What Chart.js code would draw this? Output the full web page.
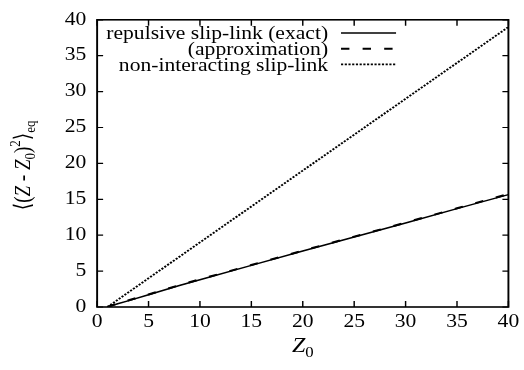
<!DOCTYPE html>
<html><head><meta charset="utf-8">
<script src="https://cdn.jsdelivr.net/npm/chart.js@4/dist/chart.umd.min.js"></script>
<style>html,body{margin:0;padding:0;background:#fff;overflow:hidden}canvas{display:block}</style>
</head><body>
<canvas id="c" width="437" height="370"></canvas>
<script>
// ---- data ----
const z0Values          = [1, 2, 3, 5, 8, 10, 15, 20, 25, 30, 35, 40];
const exactValues       = [0, 0.45, 0.85, 1.7, 3.0, 3.8, 5.8, 7.8, 9.75, 11.7, 13.7, 15.65];
const approxValues      = [0, 0.5, 0.9, 1.75, 3.05, 3.85, 5.85, 7.85, 9.8, 11.75, 13.75, 15.75];
const nonInteracting    = [0, 1, 2, 4, 7, 9, 14, 19, 24, 29, 34, 39];
const seriesLabels      = ['repulsive slip-link (exact)', '(approximation)', 'non-interacting slip-link'];
const xTickLabels       = ['0','5','10','15','20','25','30','35','40'];
const yTickLabels       = ['0','5','10','15','20','25','30','35','40'];

const FONT = '"Liberation Serif"';
const LAYOUT_W = 437, OUT_W = 524, OUT_H = 370;
const SX = OUT_W / LAYOUT_W;   // the reference is horizontally stretched
const toPts = (ys) => z0Values.map((x, i) => ({x, y: ys[i]}));

const styles = [
  {borderWidth: 1.5, borderDash: []},
  {borderWidth: 2, borderDash: [7, 11]},
  {borderWidth: 1.8, borderDash: [1.8, 1.3]}
];

const datasets = [exactValues, approxValues, nonInteracting].map((ys, i) => ({
  label: seriesLabels[i], data: toPts(ys), showLine: true, fill: false, tension: 0,
  borderColor: '#000', backgroundColor: '#000', pointRadius: 0,
  borderWidth: styles[i].borderWidth, borderDash: styles[i].borderDash
}));

function drawRich(ctx, segs, x, y, align) {
  const fontOf = s => `${s.it ? 'italic ' : ''}${s.sz}px ${s.f || FONT}`;
  const widths = segs.map(s => { ctx.font = fontOf(s); return ctx.measureText(s.t).width; });
  const total = widths.reduce((a, b) => a + b, 0);
  let cx = align === 'center' ? x - total / 2 : (align === 'right' ? x - total : x);
  ctx.textAlign = 'left';
  ctx.textBaseline = 'alphabetic';
  segs.forEach((s, i) => { ctx.font = fontOf(s); ctx.fillText(s.t, cx, y + (s.dy || 0)); cx += widths[i]; });
}

const stretchPlugin = {
  id: 'stretch',
  beforeDraw(chart) {
    const ctx = chart.ctx;
    ctx.setTransform(1, 0, 0, 1, 0, 0);
    ctx.fillStyle = '#fff';
    ctx.fillRect(0, 0, chart.canvas.width, chart.canvas.height);
    ctx.setTransform(chart.canvas.width / LAYOUT_W, 0, 0, 1, 0, 0);
  }
};

const framePlugin = {
  id: 'frame',
  afterDraw(chart) {
    const ctx = chart.ctx, a = chart.chartArea;
    const xs = chart.scales.x, ys = chart.scales.y;
    ctx.save();
    ctx.strokeStyle = '#000';
    ctx.fillStyle = '#000';
    ctx.setLineDash([]);
    ctx.lineWidth = 1.6;
    ctx.strokeRect(a.left, a.top, a.right - a.left, a.bottom - a.top);
    ctx.lineWidth = 1.2;
    ctx.beginPath();
    xs.ticks.forEach(t => {
      const px = xs.getPixelForValue(t.value);
      ctx.moveTo(px, a.bottom); ctx.lineTo(px, a.bottom - 6);
      ctx.moveTo(px, a.top); ctx.lineTo(px, a.top + 6);
    });
    ys.ticks.forEach(t => {
      const py = ys.getPixelForValue(t.value);
      ctx.moveTo(a.left, py); ctx.lineTo(a.left + 5, py);
      ctx.moveTo(a.right, py); ctx.lineTo(a.right - 5, py);
    });
    ctx.stroke();

    const textRight = 273.6, sx0 = 284.4, sx1 = 330.3;
    const baselines = [39.3, 55, 70.7];
    chart.data.datasets.forEach((ds, i) => {
      drawRich(ctx, [{t: ds.label, sz: 18}], textRight, baselines[i], 'right');
      ctx.beginPath();
      ctx.lineWidth = ds.borderWidth;
      ctx.setLineDash(ds.borderDash || []);
      const ly = baselines[i] - 6.3;
      ctx.moveTo(sx0, ly); ctx.lineTo(sx1, ly);
      ctx.stroke();
      ctx.setLineDash([]);
    });

    drawRich(ctx, [{t: 'Z', it: true, sz: 20}, {t: '0', sz: 14, dy: 5}], (a.left + a.right) / 2, 352, 'center');

    ctx.translate(25, (a.top + a.bottom) / 2 + 2);
    ctx.rotate(-Math.PI / 2);
    drawRich(ctx, [
      {t: '\u27E8', sz: 19, f: '"DejaVu Sans"'}, {t: '(', sz: 19}, {t: 'Z', it: true, sz: 19}, {t: ' - ', sz: 19},
      {t: 'Z', it: true, sz: 19}, {t: '0', sz: 13, dy: 4}, {t: ')', sz: 19},
      {t: '2', sz: 13, dy: -8}, {t: '\u27E9', sz: 19, f: '"DejaVu Sans"'}, {t: 'eq', sz: 13, dy: 4}
    ], 0, 0, 'center');
    ctx.restore();
  }
};

const canvas = document.getElementById('c');
const chart = new Chart(canvas, {
  type: 'scatter',
  data: {datasets},
  options: {
    responsive: false, animation: false, devicePixelRatio: 1,
    layout: {padding: {top: 14, right: 10, left: 0, bottom: 0}},
    plugins: {legend: {display: false}, tooltip: {enabled: false}},
    events: [],
    scales: {
      x: {
        type: 'linear', min: 0, max: 40,
        ticks: {stepSize: 5, color: '#000', font: {family: FONT, size: 18}, padding: 4, maxRotation: 0,
                callback: (v, i) => xTickLabels[i]},
        grid: {display: false, drawTicks: false}, border: {display: false},
        afterFit(s) { s.height = 63; }
      },
      y: {
        type: 'linear', min: 0, max: 40,
        ticks: {stepSize: 5, color: '#000', font: {family: FONT, size: 18}, padding: 9,
                callback: (v, i) => yTickLabels[i]},
        grid: {display: false, drawTicks: false}, border: {display: false},
        afterFit(s) { s.width = 81; }
      }
    }
  },
  plugins: [stretchPlugin, framePlugin]
});
// widen the bitmap to the output size; layout stays at LAYOUT_W and is stretched when drawn
canvas.width = OUT_W; canvas.height = OUT_H;
canvas.style.width = OUT_W + 'px'; canvas.style.height = OUT_H + 'px';
chart.draw();
</script>
</body></html>
